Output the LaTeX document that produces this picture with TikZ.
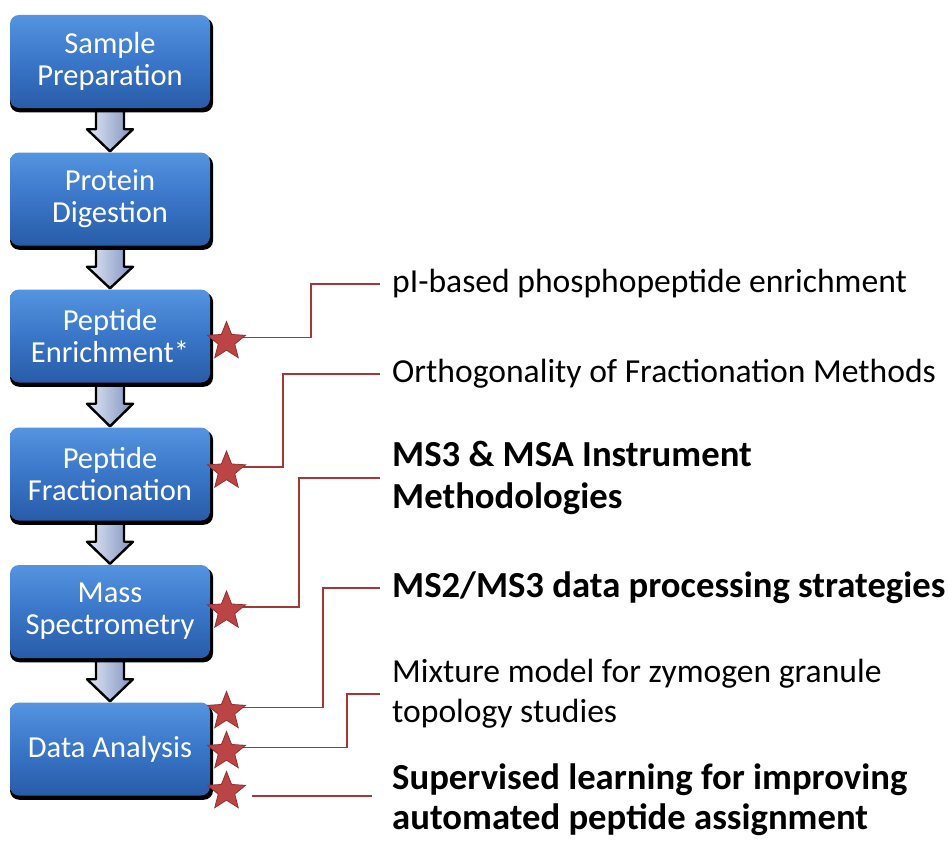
\documentclass[tikz,border=0pt]{standalone}
\usepackage{fontspec}
\setmainfont{Carlito}
\usetikzlibrary{shapes.geometric,calc,shadows}

\definecolor{boxtop}{RGB}{84,148,224}
\definecolor{boxmid}{RGB}{58,118,200}
\definecolor{boxbot}{RGB}{40,92,168}
\definecolor{arrowlight}{RGB}{226,233,247}
\definecolor{arrowdark}{RGB}{128,146,190}
\definecolor{starfill}{RGB}{187,68,68}
\definecolor{staredge}{RGB}{150,48,48}
\definecolor{linkred}{RGB}{165,55,55}

\pgfdeclarelayer{paper}
\pgfdeclarelayer{links}
\pgfsetlayers{paper,links,main}

\tikzset{
  stage/.style={rectangle, rounded corners=9pt, minimum width=200pt,
    minimum height=93pt, inner sep=0pt, align=center, text=white,
    top color=boxtop, bottom color=boxbot, middle color=boxmid,
    font=\fontsize{30.5}{32}\selectfont,
    general shadow={fill=black, shadow xshift=1.5pt, shadow yshift=-3.5pt,
      shadow scale=1.015}},
  flowarrow/.style={draw=black, line width=2.4pt, line join=round,
    left color=arrowlight, right color=arrowdark},
  marker/.style={star, star points=5, star point ratio=2.3,
    minimum size=40pt, inner sep=0pt, fill=starfill, draw=staredge,
    line width=0.8pt},
  link/.style={draw=linkred, line width=1.8pt},
  note/.style={anchor=west, inner sep=0pt, align=left,
    font=\fontsize{33.6}{40}\selectfont},
  boldnote/.style={anchor=west, inner sep=0pt, align=left,
    font=\fontsize{36.7}{42}\selectfont\bfseries}
}

\begin{document}
\begin{tikzpicture}[x=1pt, y=-1pt]
\useasboundingbox (0,0) rectangle (948,843);
\begin{pgfonlayer}{paper}
  \fill[white] (0,0) rectangle (948,843);
\end{pgfonlayer}

% workflow stages
\node[stage] (b1) at (110,61.5) {Sample\\Preparation};
\node[stage] (b2) at (110,199) {Protein\\Digestion};
\node[stage] (b3) at (110,336) {Peptide\\Enrichment*};
\node[stage] (b4) at (110,474) {Peptide\\Fractionation};
\node[stage] (b5) at (110,611.5) {Mass\\Spectrometry};
\node[stage] (b6) at (110,749) {Data Analysis};

% block arrows between stages
\foreach \a/\b in {b1/b2, b2/b3, b3/b4, b4/b5, b5/b6} {
  \path[flowarrow]
    ($(\a.south)+(-14,3)$) -- ($(\a.south)+(-14,21)$) --
    ($(\a.south)+(-23,21)$) -- ([yshift=1pt]\b.north) --
    ($(\a.south)+(23,21)$) -- ($(\a.south)+(14,21)$) --
    ($(\a.south)+(14,3)$) -- cycle;
}

% topic labels
\node[note] (t1) at (392,284) {pI-based phosphopeptide enrichment};
\node[note] (t2) at (392,374) {Orthogonality of Fractionation Methods};
\node[boldnote] (t3) at (392,478) {MS3 \& MSA Instrument\\Methodologies};
\node[boldnote] (t4) at (392,588) {MS2/MS3 data processing strategies};
\node[note] (t5) at (392,694) {Mixture model for zymogen granule\\topology studies};
\node[boldnote, font=\fontsize{36.7}{40}\selectfont\bfseries] (t6) at (392,800)
  {Supervised learning for improving\\automated peptide assignment};

% star markers
\node[marker] (s1) at (226.5,341.5) {};
\node[marker] (s2) at (226.5,471) {};
\node[marker] (s3) at (226.5,611) {};
\node[marker] (s4) at (226.5,711.5) {};
\node[marker] (s5) at (226.5,751.5) {};
\node[marker] (s6) at (226.5,791.5) {};

% connectors from markers to labels, kept beneath the stars
\begin{pgfonlayer}{links}
\draw[link] ([xshift=8pt,yshift=4pt]s1.center) -| ($(t1.west)+(-81,0)$) -- ($(t1.west)+(-12,0)$);
\draw[link] ([xshift=8pt,yshift=4pt]s2.center) -| ($(t2.west)+(-109,0)$) -- ($(t2.west)+(-12,0)$);
\draw[link] ([xshift=8pt,yshift=4pt]s3.center) -| ($(t3.west)+(-93,0)$) -- ($(t3.west)+(-12,0)$);
\draw[link] ([xshift=8pt,yshift=4pt]s4.center) -| ($(t4.west)+(-69,0)$) -- ($(t4.west)+(-12,0)$);
\draw[link] ([xshift=8pt,yshift=4pt]s5.center) -| ($(t5.west)+(-45,0)$) -- ($(t5.west)+(-12,0)$);
\coordinate (e6) at ($(t6.west)+(-20,-4)$);
\draw[link] ([xshift=25pt,yshift=-4.5pt]s6.center) -- (e6);
\end{pgfonlayer}
\end{tikzpicture}
\end{document}
